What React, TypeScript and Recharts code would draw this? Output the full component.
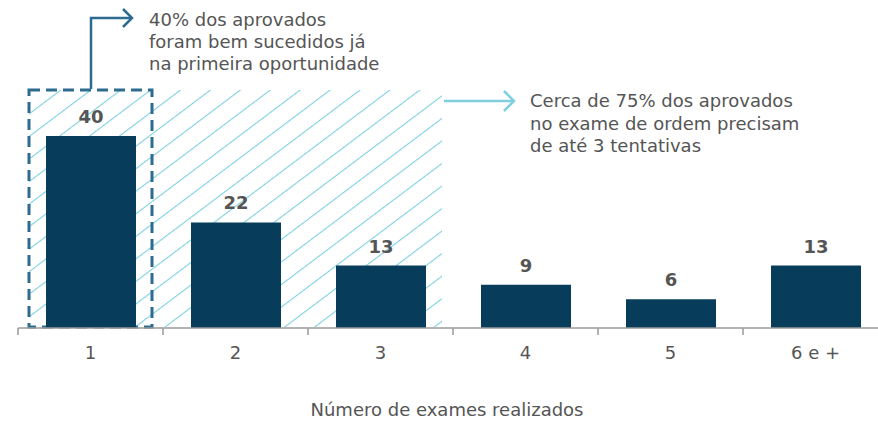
import React from 'react';
import { BarChart, Bar, XAxis, YAxis, LabelList, ReferenceArea } from 'recharts';

const categories = ['1', '2', '3', '4', '5', '6 e +'];
const values = [40, 22, 13, 9, 6, 13];

const chartData = categories.map((name, i) => ({ name, value: values[i] }));

const BAR_COLOR = '#073c5b';
const HATCH_COLOR = '#7fcfe0';
const DARK_ACCENT = '#2d6c90';
const TEXT_COLOR = '#555555';
const AXIS_COLOR = '#9a9a9a';
const FONT = '"DejaVu Sans", sans-serif';

const PLOT_BOTTOM = 328;
const BAND = 145;

// x tick: label at the band centre, small tick line at band boundaries
function BandTick(props: any) {
  const { x, payload, index } = props;
  const isLast = index === categories.length - 1;
  return (
    <g>
      <line x1={x - BAND / 2} x2={x - BAND / 2} y1={PLOT_BOTTOM} y2={PLOT_BOTTOM + 7} stroke={AXIS_COLOR} strokeWidth={1.5} />
      {isLast && (
        <line x1={x + BAND / 2} x2={x + BAND / 2} y1={PLOT_BOTTOM} y2={PLOT_BOTTOM + 7} stroke={AXIS_COLOR} strokeWidth={1.5} />
      )}
      <text x={x} y={PLOT_BOTTOM + 31} textAnchor="middle" fill={TEXT_COLOR} fontSize={18} fontFamily={FONT}>
        {payload.value}
      </text>
    </g>
  );
}

// inset the band-wide reference area a bit, like the original
function insetRect(fill: string, stroke?: string) {
  return (p: any) => (
    <rect
      x={p.x + 11}
      y={p.y + 2}
      width={p.width - 22}
      height={p.height - 3}
      fill={fill}
      stroke={stroke || 'none'}
      strokeWidth={stroke ? 3 : 0}
      strokeDasharray={stroke ? '11 6' : undefined}
    />
  );
}

export default function App() {
  return (
    <div style={{ position: 'absolute', left: 0, top: 0, width: 878, height: 422, overflow: 'hidden', background: '#fff' }}>
      <BarChart
        width={900}
        height={422}
        data={chartData}
        margin={{ top: 88, right: 12, bottom: 54, left: 18 }}
        barCategoryGap={0}
      >
        <defs>
          <pattern id="hatch" patternUnits="userSpaceOnUse" width={18} height={18} patternTransform="rotate(53)">
            <line x1={0} y1={0} x2={0} y2={18} stroke={HATCH_COLOR} strokeWidth={2.2} />
          </pattern>
        </defs>
        <YAxis hide domain={[0, 50]} />
        <XAxis
          dataKey="name"
          axisLine={{ stroke: AXIS_COLOR, strokeWidth: 1.5 }}
          tickLine={false}
          tick={<BandTick />}
          interval={0}
          height={40}
        />
        <ReferenceArea x1="1" x2="3" y1={0} y2={50} ifOverflow="visible" shape={insetRect('url(#hatch)')} />
        <Bar dataKey="value" fill={BAR_COLOR} barSize={90} isAnimationActive={false}>
          <LabelList
            dataKey="value"
            position="top"
            offset={13}
            fill={TEXT_COLOR}
            fontSize={18}
            fontWeight="bold"
            fontFamily={FONT}
          />
        </Bar>
        <ReferenceArea x1="1" x2="1" y1={0} y2={50} ifOverflow="visible" shape={insetRect('none', DARK_ACCENT)} />
      </BarChart>

      <svg width={878} height={422} style={{ position: 'absolute', left: 0, top: 0, pointerEvents: 'none' }}>
        <g fill="none" strokeLinecap="butt">
          <polyline points="91,89 91,18 131,18" stroke={DARK_ACCENT} strokeWidth={2.5} />
          <polyline points="123,9 132,18 123,27" stroke={DARK_ACCENT} strokeWidth={2.5} />
          <line x1={444} y1={101} x2={514} y2={101} stroke={HATCH_COLOR} strokeWidth={2.5} />
          <polyline points="504,91 514,101 504,111" stroke={HATCH_COLOR} strokeWidth={2.5} />
        </g>
        <g fill={TEXT_COLOR} fontFamily={FONT} fontSize={18}>
          <text x={149} y={26}>40% dos aprovados</text>
          <text x={149} y={48}>foram bem sucedidos já</text>
          <text x={149} y={70}>na primeira oportunidade</text>
          <text x={530} y={107}>Cerca de 75% dos aprovados</text>
          <text x={530} y={130}>no exame de ordem precisam</text>
          <text x={530} y={152}>de até 3 tentativas</text>
          <text x={447} y={416} textAnchor="middle" fontSize={18}>Número de exames realizados</text>
        </g>
      </svg>
    </div>
  );
}
